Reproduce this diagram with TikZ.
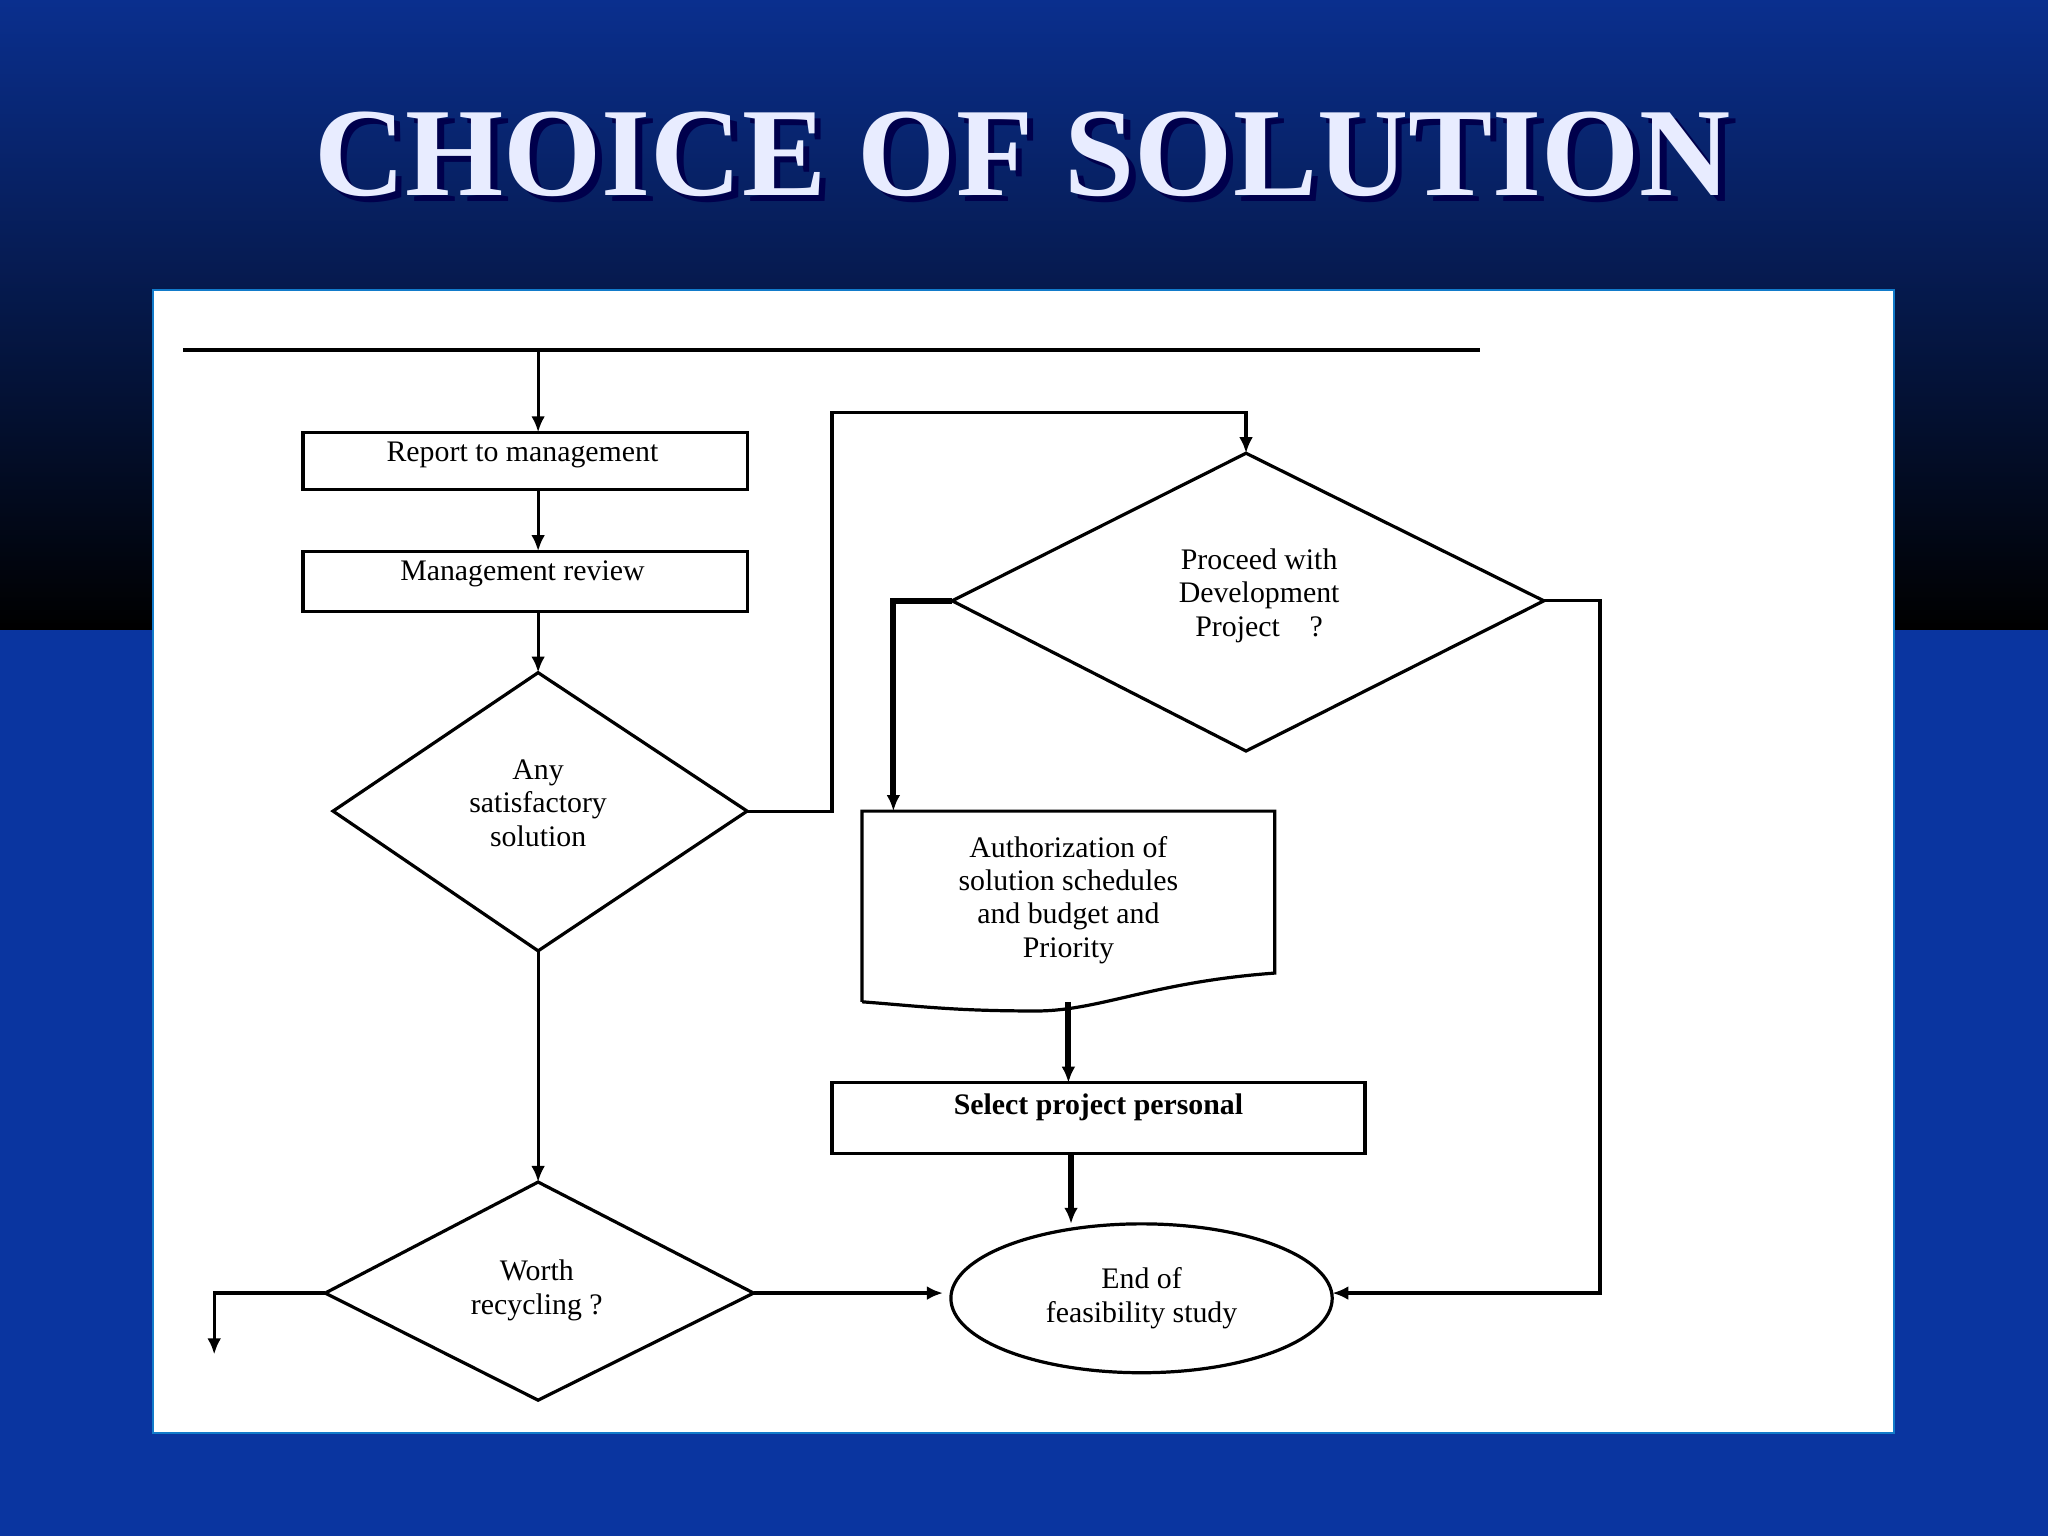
\documentclass[tikz,border=0pt]{standalone}
\usepackage{fontspec}
\setmainfont{Liberation Serif}
\usetikzlibrary{arrows.meta,shapes.geometric}
\definecolor{bgblue}{HTML}{0A35A0}
\definecolor{topblue}{HTML}{0A2F8E}
\definecolor{titlec}{HTML}{E8ECFF}
\tikzset{
 ln/.style={line width=1.4pt},
 tk/.style={line width=2.6pt},
 arr/.style={-{Latex[length=7pt,width=6pt]}},
 lbl/.style={font=\fontsize{13}{14.5}\selectfont, align=center, inner sep=0}
}
\begin{document}
\begin{tikzpicture}[x=0.02cm,y=-0.02cm]
\useasboundingbox (0,0) rectangle (1568,1176);
\fill[bgblue] (0,0) rectangle (1568,1176);
\shade[top color=topblue, bottom color=black] (0,0) rectangle (1568,482);
\fill[white] (117,222) rectangle (1450,1097);
\draw[cyan!60!blue, line width=1pt] (117,222) rectangle (1450,1097);
% title
\node[font=\fontsize{55}{55}\bfseries, text=black!70!blue] at (788,123) {CHOICE OF SOLUTION};
\node[font=\fontsize{55}{55}\bfseries, text=titlec] (title) at (783,118) {CHOICE OF SOLUTION};
% top line
\coordinate (tl) at (140,268); \coordinate (tr) at (1133,268); \coordinate (ts) at (412,268);
\draw[ln] (tl) -- (tr);
% boxes
\draw[ln] (232,331) rectangle (572,375);
\node[lbl] (b1) at (400,348) {Report to management};
\coordinate (b1t) at (412,331); \coordinate (b1b) at (412,375);
\draw[ln] (232,422) rectangle (572,468);
\node[lbl] (b2) at (400,439) {Management review};
\coordinate (b2t) at (412,422); \coordinate (b2b) at (412,468);
% diamond 1
\coordinate (d1t) at (412,515); \coordinate (d1b) at (412,728);
\coordinate (d1l) at (255,621); \coordinate (d1r) at (572,621);
\draw[ln] (d1t)--(d1r)--(d1b)--(d1l)--cycle;
\node[lbl] (d1) at (412,615) {Any\\satisfactory\\solution};
% diamond 2
\coordinate (d2t) at (954,347); \coordinate (d2b) at (954,575);
\coordinate (d2l) at (729,460); \coordinate (d2r) at (1182,460);
\draw[ln] (d2t)--(d2r)--(d2b)--(d2l)--cycle;
\node[lbl] (d2) at (964,456) {Proceed with\\Development\\Project\quad ?};
% document
\draw[ln] (660,767) -- (660,621) -- (976,621) -- (976,745) .. controls (880,752) and (840,775) .. (790,774) .. controls (730,774) and (700,770) .. (660,767);
\node[lbl] (doc) at (818,689) {Authorization of\\solution schedules\\and budget and\\Priority};
\coordinate (doct) at (684,621); \coordinate (docb) at (818,767);
% box 3
\draw[ln] (637,829) rectangle (1045,883);
\node[lbl, font=\fontsize{13}{14.5}\bfseries] (b3) at (841,848) {Select project personal};
\coordinate (b3t) at (818,829); \coordinate (b3b) at (820,883);
% ellipse
\node[draw, ln, ellipse, minimum width=5.84cm, minimum height=2.28cm] (end) at (874,994) {};
\node[lbl] at (874,994) {End of\\feasibility study};
\coordinate (et) at (820,937); \coordinate (er) at (1020,990); \coordinate (el) at (722,990);
% diamond 3
\coordinate (d3t) at (412,905); \coordinate (d3b) at (412,1072);
\coordinate (d3l) at (249,990); \coordinate (d3r) at (577,990);
\draw[ln] (d3t)--(d3r)--(d3b)--(d3l)--cycle;
\node[lbl] (d3) at (411,988) {Worth\\recycling ?};
\coordinate (out) at (164,1037);
% connectors
\draw[ln,arr] (ts) -- (b1t);
\draw[ln,arr] (b1b) -- (b2t);
\draw[ln,arr] (b2b) -- (d1t);
\draw[ln,arr] (d1r) -- (637,621) -- (637,316) -- (954,316) -- (d2t);
\draw[tk,arr] (d2l) -- (684,460) -- (doct);
\draw[tk,arr] (docb) -- (b3t);
\draw[tk,arr] (b3b) -- (et);
\draw[ln,arr] (d2r) -- (1225,460) -- (1225,990) -- (er);
\draw[ln,arr] (d1b) -- (d3t);
\draw[ln,arr] (d3r) -- (el);
\draw[ln,arr] (d3l) -- (164,990) -- (out);
\end{tikzpicture}
\end{document}
